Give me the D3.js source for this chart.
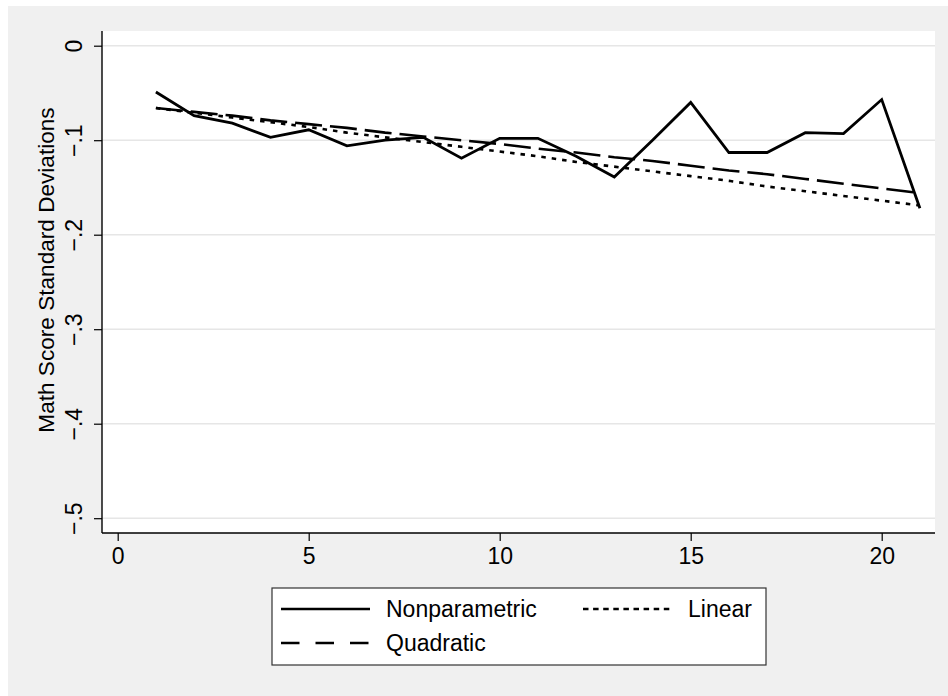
<!DOCTYPE html>
<html>
<head>
<meta charset="utf-8">
<script src="https://cdn.jsdelivr.net/npm/d3@7"></script>
<style>
  body { margin: 0; background: #fff; }
  svg text { font-family: "Liberation Sans", Arial, sans-serif; fill: #000; }
</style>
</head>
<body>
<div id="graf"></div>
<script>
// datos
const xVals = [1, 2, 3, 4, 5, 6, 7, 8, 9, 10, 11, 12, 13, 14, 15, 16, 17, 18, 19, 20, 21]
const nonparametric = [-0.049, -0.074, -0.082, -0.097, -0.089, -0.106, -0.100, -0.097, -0.119, -0.098, -0.098, -0.117, -0.139, -0.100, -0.060, -0.113, -0.113, -0.092, -0.093, -0.057, -0.172]
const linear = [-0.066, -0.071, -0.076, -0.081, -0.086, -0.092, -0.097, -0.102, -0.107, -0.112, -0.117, -0.123, -0.128, -0.133, -0.138, -0.143, -0.149, -0.154, -0.159, -0.164, -0.169]
const quadratic = [-0.066, -0.070, -0.074, -0.079, -0.083, -0.087, -0.092, -0.096, -0.100, -0.104, -0.109, -0.113, -0.118, -0.122, -0.127, -0.132, -0.136, -0.141, -0.146, -0.151, -0.156]
const xTicks = [0, 5, 10, 15, 20]
const yTicks = [0, -0.1, -0.2, -0.3, -0.4, -0.5]
const yLabel = "Math Score Standard Deviations"

const anchoTotal = 948
const altoTotal = 696

const plot = { left: 102, right: 935, top: 31, bottom: 533 }

const svg = d3.select("#graf").append("svg")
    .attr("width", anchoTotal).attr("height", altoTotal)

// fondo gris
svg.append("rect").attr("x", 8).attr("y", 6)
    .attr("width", anchoTotal - 8).attr("height", altoTotal - 6)
    .attr("fill", "#f0f0f0")

svg.append("rect").attr("x", plot.left).attr("y", plot.top)
    .attr("width", plot.right - plot.left).attr("height", plot.bottom - plot.top)
    .attr("fill", "#fff")

const x = d3.scaleLinear().domain([0, 20]).range([117.7, 881.7])
const y = d3.scaleLinear().domain([0, -0.5]).range([45.7, 518.2])

// grid
svg.append("g").selectAll("line").data(yTicks).join("line")
    .attr("x1", plot.left).attr("x2", plot.right)
    .attr("y1", d => y(d)).attr("y2", d => y(d))
    .attr("stroke", "#e6e6e6").attr("stroke-width", 1.6)

// ejes
const fmt = d => d === 0 ? "0" : d3.format(".1f")(d).replace("0.", ".")

const gx = svg.append("g").attr("transform", `translate(0, ${plot.bottom})`)
    .call(d3.axisBottom(x).tickValues(xTicks).tickSize(8).tickSizeOuter(0).tickPadding(6))
gx.select(".domain").attr("d", `M${plot.left},0H${plot.right}`).attr("stroke", "#000").attr("stroke-width", 1.4)
gx.selectAll(".tick line").attr("stroke", "#000").attr("stroke-width", 1.2)
gx.selectAll(".tick text").attr("font-size", 23).attr("font-family", "Liberation Sans, Arial, sans-serif")
    .attr("dy", "0.75em")

const gy = svg.append("g").attr("transform", `translate(${plot.left}, 0)`)
    .call(d3.axisLeft(y).tickValues(yTicks).tickFormat(fmt).tickSize(8).tickSizeOuter(0))
gy.select(".domain").attr("d", `M0,${plot.top}V${plot.bottom}`).attr("stroke", "#000").attr("stroke-width", 1.4)
gy.selectAll(".tick line").attr("stroke", "#000").attr("stroke-width", 1.2)
gy.selectAll(".tick text")
    .attr("font-size", 23).attr("font-family", "Liberation Sans, Arial, sans-serif")
    .attr("x", null).attr("dy", null)
    .attr("text-anchor", "middle")
    .attr("transform", "translate(-20,0) rotate(-90)")

svg.append("text")
    .attr("transform", `translate(54, 270) rotate(-90)`)
    .attr("text-anchor", "middle")
    .attr("font-size", 22.6)
    .text(yLabel)

// lineas
const linea = vals => d3.line().x((d, i) => x(xVals[i])).y(d => y(d))(vals)

svg.append("path").attr("d", linea(quadratic))
    .attr("fill", "none").attr("stroke", "#000").attr("stroke-width", 2.6)
    .attr("stroke-dasharray", "27,8")
svg.append("path").attr("d", linea(linear))
    .attr("fill", "none").attr("stroke", "#000").attr("stroke-width", 2.6)
    .attr("stroke-dasharray", "4.5,6")
svg.append("path").attr("d", linea(nonparametric))
    .attr("fill", "none").attr("stroke", "#000").attr("stroke-width", 2.8)
    .attr("stroke-linejoin", "miter")

// leyenda
const leg = svg.append("g")
leg.append("rect").attr("x", 272).attr("y", 588).attr("width", 494).attr("height", 77)
    .attr("fill", "#fff").attr("stroke", "#333").attr("stroke-width", 1.2)

const items = [
    { label: "Nonparametric", dash: null, lx: 281, tx: 386, row: 0 },
    { label: "Linear", dash: "5.5,4.6", lx: 583, tx: 688, row: 0 },
    { label: "Quadratic", dash: "18.5,16", lx: 281, tx: 386, row: 1 }
]
items.forEach(it => {
    const ly = 609 + it.row * 34
    leg.append("line").attr("x1", it.lx).attr("x2", it.lx + 89)
        .attr("y1", ly).attr("y2", ly)
        .attr("stroke", "#000").attr("stroke-width", 2.3)
        .attr("stroke-dasharray", it.dash)
    leg.append("text").attr("x", it.tx).attr("y", ly + 8.3)
        .attr("font-size", 23).text(it.label)
})
</script>
</body>
</html>
